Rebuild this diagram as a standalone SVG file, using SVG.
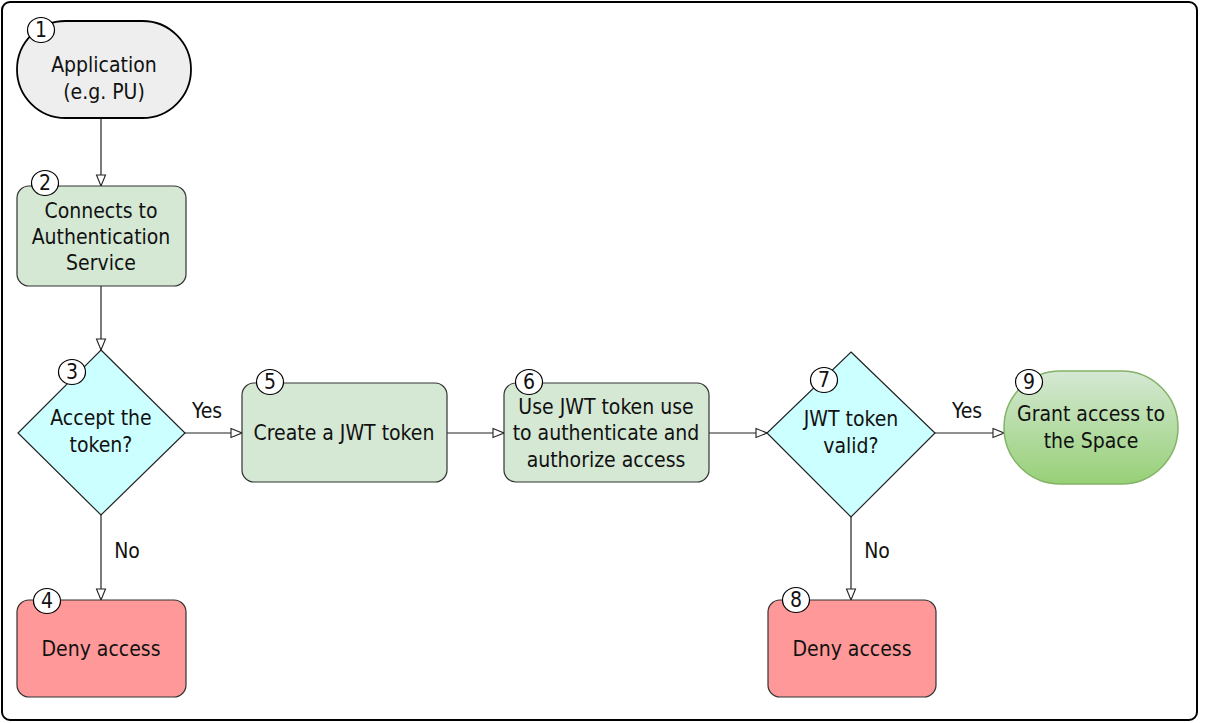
<svg xmlns="http://www.w3.org/2000/svg" width="1213" height="723" viewBox="0 0 1213 723">
<style>
text{font-family:"DejaVu Sans Condensed","DejaVu Sans",sans-serif;font-stretch:condensed;font-size:21px;fill:#111;text-anchor:middle;dominant-baseline:central}
.badge ellipse{fill:#fff;stroke:#000;stroke-width:1.2}
.badge text{font-size:21px}
.proc{fill:#d5e8d4;stroke:#333;stroke-width:1.2}
.deny{fill:#ff9999;stroke:#333;stroke-width:1.2}
.dec{fill:#ccffff;stroke:#222;stroke-width:1.2}
.edge{stroke:#222;stroke-width:1.2;fill:none;marker-end:url(#arr)}
</style>
<defs>
<marker id="arr" viewBox="0 0 13 12" refX="12" refY="6" markerWidth="13" markerHeight="12" markerUnits="userSpaceOnUse" orient="auto">
<path d="M1,1.5 L12,6 L1,10.5 Z" fill="#fff" stroke="#222" stroke-width="1.1"/>
</marker>
<linearGradient id="g9" x1="0" y1="0" x2="0" y2="1">
<stop offset="0" stop-color="#d5e8d4"/>
<stop offset="1" stop-color="#97d077"/>
</linearGradient>
</defs>
<rect x="2" y="2" width="1195" height="718" rx="8" fill="#fff" stroke="#000" stroke-width="2"/>
<g id="connectors">
<line class="edge" x1="101" y1="118" x2="101" y2="186"/>
<line class="edge" x1="101" y1="286" x2="101" y2="350"/>
<line class="edge" x1="185" y1="433" x2="242" y2="433"/>
<line class="edge" x1="447" y1="433" x2="504" y2="433"/>
<line class="edge" x1="709" y1="433" x2="767" y2="433"/>
<line class="edge" x1="935" y1="433" x2="1004" y2="433"/>
<line class="edge" x1="101" y1="515" x2="101" y2="600"/>
<line class="edge" x1="851" y1="517" x2="851" y2="600"/>
<text x="207" y="411">Yes</text>
<text x="967" y="411">Yes</text>
<text x="127" y="551">No</text>
<text x="877" y="551">No</text>
</g>
<g id="n1">
<rect x="17" y="21" width="174" height="97" rx="48.5" fill="#eeeeee" stroke="#000" stroke-width="1.8"/>
<text x="104" y="65">Application</text>
<text x="104" y="92">(e.g. PU)</text>
<g class="badge"><ellipse cx="41" cy="30" rx="13.5" ry="12.5"/><text x="41" y="30">1</text></g>
</g>
<g id="n2">
<rect class="proc" x="17" y="186" width="169" height="100" rx="12"/>
<text x="101" y="211">Connects to</text>
<text x="101" y="237">Authentication</text>
<text x="101" y="263">Service</text>
<g class="badge"><ellipse cx="45" cy="183" rx="13.5" ry="12.5"/><text x="45" y="183">2</text></g>
</g>
<g id="n3">
<polygon class="dec" points="101,350 185,433 101,515 18,433"/>
<text x="101" y="418">Accept the</text>
<text x="101" y="445">token?</text>
<g class="badge"><ellipse cx="72" cy="372" rx="13.5" ry="12.5"/><text x="72" y="372">3</text></g>
</g>
<g id="n4">
<rect class="deny" x="17" y="600" width="169" height="97" rx="12"/>
<text x="101" y="649">Deny access</text>
<g class="badge"><ellipse cx="47" cy="601" rx="13.5" ry="12.5"/><text x="47" y="601">4</text></g>
</g>
<g id="n5">
<rect class="proc" x="242" y="383" width="205" height="99" rx="12"/>
<text x="344" y="433">Create a JWT token</text>
<g class="badge"><ellipse cx="270" cy="382" rx="13.5" ry="12.5"/><text x="270" y="382">5</text></g>
</g>
<g id="n6">
<rect class="proc" x="504" y="383" width="205" height="99" rx="12"/>
<text x="606" y="407">Use JWT token use</text>
<text x="606" y="433">to authenticate and</text>
<text x="606" y="460">authorize access</text>
<g class="badge"><ellipse cx="529" cy="382" rx="13.5" ry="12.5"/><text x="529" y="382">6</text></g>
</g>
<g id="n7">
<polygon class="dec" points="851,352 935,433 851,517 767,433"/>
<text x="851" y="419">JWT token</text>
<text x="851" y="446">valid?</text>
<g class="badge"><ellipse cx="824" cy="380" rx="13.5" ry="12.5"/><text x="824" y="380">7</text></g>
</g>
<g id="n8">
<rect class="deny" x="768" y="600" width="168" height="97" rx="12"/>
<text x="852" y="649">Deny access</text>
<g class="badge"><ellipse cx="796" cy="600" rx="13.5" ry="12.5"/><text x="796" y="600">8</text></g>
</g>
<g id="n9">
<rect x="1004" y="371" width="174" height="113" rx="56.5" fill="url(#g9)" stroke="#82b366" stroke-width="1.5"/>
<text x="1091" y="414">Grant access to</text>
<text x="1091" y="441">the Space</text>
<g class="badge"><ellipse cx="1029" cy="382" rx="13.5" ry="12.5"/><text x="1029" y="382">9</text></g>
</g>
</svg>
